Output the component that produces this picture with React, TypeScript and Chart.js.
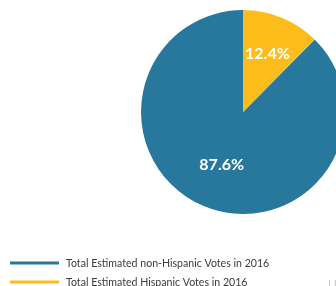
import React, { useEffect, useRef } from "react";
import { Chart, registerables } from "chart.js";

Chart.register(...registerables);

const categories = [
  "Total Estimated non-Hispanic Votes in 2016",
  "Total Estimated Hispanic Votes in 2016",
];
const shares = [87.6, 12.4];
const valueLabels = ["87.6%", "12.4%"];
const colors = ["#28789e", "#fcbd1a"];

export default function App() {
  const ref = useRef<HTMLCanvasElement>(null);
  useEffect(() => {
    if (!ref.current) return;
    const labelPlugin = {
      id: "sliceLabels",
      afterDatasetsDraw(chart: any) {
        const ctx = chart.ctx;
        const meta = chart.getDatasetMeta(0);
        ctx.save();
        ctx.fillStyle = "#ffffff";
        ctx.font = "bold 16px Lato";
        ctx.textAlign = "center";
        ctx.textBaseline = "middle";
        meta.data.forEach((arc: any, i: number) => {
          const p = arc.getProps(["x", "y", "startAngle", "endAngle", "outerRadius"], true);
          const mid = (p.startAngle + p.endAngle) / 2;
          const r = p.outerRadius * (i === 1 ? 0.63 : 0.55);
          ctx.fillText(valueLabels[i], p.x + Math.cos(mid) * r, p.y + Math.sin(mid) * r + 1);
        });
        ctx.restore();
      },
    };
    const legendPlugin = {
      id: "lineLegend",
      afterDraw(chart: any) {
        const ctx = chart.ctx;
        ctx.save();
        ctx.font = "10.6px Lato";
        ctx.textBaseline = "middle";
        ctx.textAlign = "left";
        categories.forEach((c, i) => {
          const y = 263 + i * 19;
          ctx.strokeStyle = colors[i];
          ctx.lineWidth = 3;
          ctx.beginPath();
          ctx.moveTo(10, y);
          ctx.lineTo(59, y);
          ctx.stroke();
          ctx.fillStyle = "#3a3a3a";
          ctx.fillText(c, 66, y + 1);
        });
        ctx.fillStyle = "#c8c8c8";
        ctx.font = "11px Lato";
        ctx.fillText("LI", 328, 284);
        ctx.restore();
      },
    };
    const chart = new Chart(ref.current, {
      type: "pie",
      data: {
        labels: categories,
        datasets: [
          {
            data: shares,
            backgroundColor: colors,
            borderWidth: 0,
          },
        ],
      },
      options: {
        responsive: false,
        animation: false,
        rotation: (shares[1] / 100) * 360,
        layout: { padding: { top: 10, bottom: 72, left: 0, right: 0 } },
        plugins: {
          legend: { display: false },
          tooltip: { enabled: false },
        },
      },
      plugins: [labelPlugin, legendPlugin],
    });
    return () => chart.destroy();
  }, []);
  return (
    <div
      style={{
        position: "absolute",
        left: 0,
        top: 0,
        width: 336,
        height: 286,
        overflow: "hidden",
        background: "#fff",
      }}
    >
      <canvas ref={ref} width={486} height={286} style={{ width: 486, height: 286 }} />
    </div>
  );
}
